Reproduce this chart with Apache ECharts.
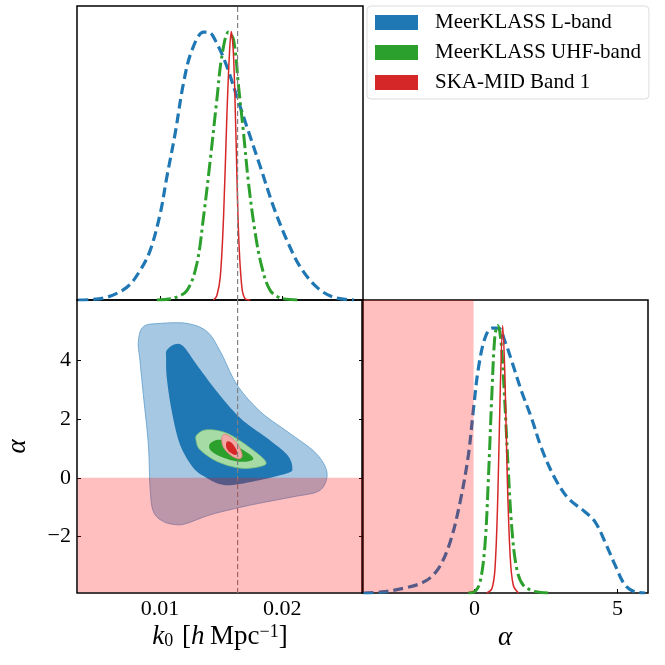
<!DOCTYPE html>
<html><head><meta charset="utf-8">
<script src="https://cdn.jsdelivr.net/npm/echarts@6/dist/echarts.min.js"></script>
<style>html,body{margin:0;padding:0;background:#fff}#c{width:665px;height:665px}</style>
</head><body><div id="c"></div>
<script>
// ---------- data ----------
const seriesNames = ['MeerKLASS L-band', 'MeerKLASS UHF-band', 'SKA-MID Band 1'];
const k0Range = [0.0032, 0.0266];
const alphaRange = [-3.93, 6.07];
const densRange = [0, 1.095];
const k0True = 0.01634;
const priorAlphaMax = 0;
const k0Ticks = [0.01, 0.02];
const alphaTicksY = [-2, 0, 2, 4];
const alphaTicksX = [0, 5];

// 1D marginal posteriors of k0 (peak-normalised), [k0, density]
const lbandK0 = [[0.00331,0],[0.00536,0.007],[0.00727,0.047],[0.00836,0.11],[0.00918,0.184],[0.0100,0.32],[0.01055,0.458],[0.01123,0.62],[0.01191,0.807],[0.0126,0.93],[0.01355,0.998],[0.01396,0.998],[0.01464,0.956],[0.01546,0.87],[0.01628,0.757],[0.0171,0.645],[0.0182,0.496],[0.01929,0.346],[0.02038,0.222],[0.02148,0.122],[0.02284,0.047],[0.02421,0.01],[0.02585,0]];
const uhfK0 = [[0.00973,0],[0.01109,0.007],[0.01219,0.035],[0.0130,0.134],[0.01355,0.309],[0.0141,0.52],[0.01464,0.745],[0.01505,0.907],[0.0156,0.998],[0.01601,0.969],[0.01642,0.795],[0.01683,0.62],[0.01724,0.433],[0.01779,0.247],[0.01833,0.122],[0.01902,0.035],[0.01997,0.006],[0.02148,0]];
const skaK0 = [[0.01437,0],[0.01464,0.016],[0.01492,0.085],[0.01519,0.309],[0.01546,0.682],[0.01566,0.907],[0.01582,1],[0.01601,0.907],[0.0162,0.62],[0.01642,0.247],[0.01669,0.047],[0.01697,0.004],[0.01738,0]];

// 1D marginal posteriors of alpha, [alpha, density]
const lbandAlpha = [[-3.88,0],[-3.24,0.004],[-2.42,0.019],[-1.72,0.044],[-1.26,0.091],[-0.85,0.19],[-0.5,0.34],[-0.21,0.516],[-0.03,0.69],[0.14,0.84],[0.37,0.953],[0.61,0.99],[0.84,0.99],[1.07,0.94],[1.31,0.865],[1.65,0.753],[2.0,0.653],[2.35,0.54],[2.82,0.428],[3.29,0.353],[3.87,0.303],[4.22,0.266],[4.57,0.19],[4.92,0.104],[5.27,0.029],[5.62,0.004],[5.97,0]];
const uhfAlpha = [[-0.21,0],[0.02,0.006],[0.2,0.041],[0.37,0.18],[0.49,0.43],[0.61,0.74],[0.72,0.965],[0.82,1],[0.93,0.94],[1.05,0.74],[1.17,0.49],[1.31,0.241],[1.48,0.091],[1.71,0.029],[2.12,0.006],[2.59,0]];
const skaAlpha = [[0.43,0],[0.61,0.016],[0.72,0.091],[0.82,0.366],[0.9,0.74],[0.99,1],[1.07,0.80],[1.15,0.43],[1.25,0.14],[1.36,0.029],[1.54,0]];

// 2D credible contours (68% inner, 95% outer), [k0, alpha]
const lbandOuter = [[0.00822,4.65],[0.00863,5.16],[0.0100,5.27],[0.0122,5.27],[0.01384,4.99],[0.01493,4.31],[0.0163,3.17],[0.0182,2.26],[0.0204,1.58],[0.0226,0.90],[0.02356,0.33],[0.02356,-0.125],[0.02288,-0.47],[0.02096,-0.64],[0.0182,-0.86],[0.0163,-1.03],[0.01411,-1.26],[0.0122,-1.55],[0.01137,-1.6],[0.01027,-1.49],[0.00945,-1.15],[0.00918,-0.35],[0.00904,1.125],[0.00863,2.83],[0.00836,3.97]];
const lbandInner = [[0.01055,4.36],[0.01123,4.56],[0.01192,4.48],[0.01301,3.85],[0.01466,2.94],[0.01658,2.03],[0.01877,1.35],[0.02041,0.78],[0.02082,0.33],[0.02041,0.16],[0.01822,-0.07],[0.01603,-0.24],[0.01493,-0.22],[0.01384,-0.01],[0.01274,0.33],[0.01164,1.125],[0.01096,2.26],[0.01055,3.40],[0.01049,4.08]];
const uhfOuter = [[0.01301,1.47],[0.01384,1.64],[0.01548,1.52],[0.0174,1.01],[0.01863,0.56],[0.01822,0.39],[0.01658,0.33],[0.01466,0.56],[0.01329,0.95],[0.01296,1.24]];
const uhfInner = [[0.01411,1.18],[0.01493,1.30],[0.0163,1.07],[0.01753,0.73],[0.0174,0.58],[0.0163,0.56],[0.01493,0.73],[0.01411,0.95]];
const skaOuter = [[0.01507,1.41],[0.01548,1.47],[0.0163,1.18],[0.01671,0.78],[0.01644,0.65],[0.01575,0.78],[0.01515,1.07]];
const skaInner = [[0.01548,1.24],[0.01589,1.18],[0.0163,0.9],[0.01616,0.78],[0.01562,0.9],[0.0154,1.07]];

// ---------- styles ----------
const FONT = 'Liberation Serif';
const mainColors = ['#1f77b4', '#2ca02c', '#d62728'];
const lightColors = ['#a6c8e2', '#a6dba6', '#f2a9a6'];
const edgeColors = ['#5d9ccb', '#7cc27c', '#e07a78'];
const priorFill = 'rgba(255,0,0,0.25)';

const chart = echarts.init(document.getElementById('c'), null, {renderer: 'canvas'});

// closed Catmull-Rom smoothing of a pixel-space outline (rendering only)
function smoothClosed(pts, n) {
  const out = [], m = pts.length;
  for (let i = 0; i < m; i++) {
    const p0 = pts[(i - 1 + m) % m], p1 = pts[i], p2 = pts[(i + 1) % m], p3 = pts[(i + 2) % m];
    for (let s = 0; s < n; s++) {
      const t = s / n, t2 = t * t, t3 = t2 * t;
      const f = (a, b, c, d) => 0.5 * ((2 * b) + (-a + c) * t + (2 * a - 5 * b + 4 * c - d) * t2 + (-a + 3 * b - 3 * c + d) * t3);
      out.push([f(p0[0], p1[0], p2[0], p3[0]), f(p0[1], p1[1], p2[1], p3[1])]);
    }
  }
  return out;
}

function contourSeries(idx, polys) {
  return {
    type: 'custom', name: seriesNames[idx], xAxisIndex: 1, yAxisIndex: 1, z: 1, silent: true,
    data: polys.map((p) => [p[0][0], p[0][1]]),
    renderItem(params, api) {
      const p = polys[params.dataIndex];
      const outer = params.dataIndex === 0;
      return {
        type: 'polygon',
        shape: {points: smoothClosed(p.map(v => api.coord(v)), 10)},
        style: {fill: outer ? lightColors[idx] : mainColors[idx], stroke: outer ? edgeColors[idx] : null, lineWidth: outer ? 0.8 : 0}
      };
    }
  };
}
function lineSeries(idx, data, xi, yi, style) {
  return {
    type: 'line', name: seriesNames[idx], xAxisIndex: xi, yAxisIndex: yi, data: data,
    smooth: 0.35, showSymbol: false, symbol: 'none', silent: true, z: 3,
    lineStyle: Object.assign({color: mainColors[idx]}, style)
  };
}
const styles = [
  {width: 3.2, type: [10, 5], cap: 'butt'},
  {width: 3, type: [14, 4, 3, 4], cap: 'butt'},
  {width: 1.5, type: 'solid'}
];
function priorRect(xi, yi, box) {
  return {
    type: 'custom', xAxisIndex: xi, yAxisIndex: yi, z: 6, silent: true,
    data: [box],
    renderItem(params, api) {
      const a = api.coord([api.value(0), api.value(3)]);
      const b = api.coord([api.value(2), api.value(1)]);
      const inset = 0.8; // keep the black frame uncovered
      return {type: 'rect', shape: {x: a[0] + inset, y: a[1], width: b[0] - a[0] - 2 * inset, height: b[1] - a[1] - inset},
        style: {fill: priorFill}};
    }
  };
}
function trueLine(xi, yi, yr) {
  return {type: 'line', xAxisIndex: xi, yAxisIndex: yi, data: [[k0True, yr[0]], [k0True, yr[1]]],
    showSymbol: false, symbol: 'none', silent: true, z: 4,
    lineStyle: {color: '#808080', width: 1.2, type: [5, 3]}};
}

const tickStyle = {show: true, inside: true, length: 4, lineStyle: {color: '#000', width: 1}};
const labelStyle = {fontFamily: FONT, fontSize: 22, color: '#000'};
const minusFmt = v => (v < 0 ? '\u2212' + Math.abs(v) : String(v));

const G0 = {left: 77, top: 6, width: 286, height: 294};
const G1 = {left: 77, top: 300, width: 286, height: 293};
const G2 = {left: 362, top: 300, width: 286, height: 293};
const gridBase = {show: true, borderColor: '#000', borderWidth: 1.5, backgroundColor: 'transparent'};

const option = {
  animation: false,
  backgroundColor: '#fff',
  grid: [Object.assign({}, gridBase, G0), Object.assign({}, gridBase, G1), Object.assign({}, gridBase, G2)],
  legend: {
    left: 367, top: 6, orient: 'vertical', selectedMode: false,
    data: seriesNames.map((n, i) => ({name: n, icon: 'rect', itemStyle: {color: mainColors[i], borderWidth: 0}})),
    itemWidth: 43, itemHeight: 15, itemGap: 9,
    padding: [6, 8, 6, 8],
    borderColor: '#dcdcdc', borderWidth: 1, borderRadius: 4, backgroundColor: '#fff',
    textStyle: {fontFamily: FONT, fontSize: 21, color: '#000', padding: [0, 0, 0, 12]}
  },
  xAxis: [
    {gridIndex: 0, type: 'value', min: k0Range[0], max: k0Range[1], axisLine: {show: false}, splitLine: {show: false},
      axisLabel: {show: false}, axisTick: Object.assign({customValues: k0Ticks}, tickStyle)},
    {gridIndex: 1, type: 'value', min: k0Range[0], max: k0Range[1], axisLine: {show: false}, splitLine: {show: false},
      axisLabel: Object.assign({customValues: k0Ticks, margin: 5, formatter: v => v.toFixed(2)}, labelStyle),
      axisTick: Object.assign({customValues: k0Ticks}, tickStyle),
      name: '{i|k}{s|0}{n| [}{i|h}{n|\u2009Mpc}{p|\u22121}{n|]}', nameLocation: 'middle', nameGap: 30,
      nameTextStyle: {fontFamily: FONT, fontSize: 27, color: '#000',
        rich: {i: {fontFamily: FONT, fontSize: 27, fontStyle: 'italic', color: '#000'},
               n: {fontFamily: FONT, fontSize: 27, color: '#000'},
               s: {fontFamily: FONT, fontSize: 18, color: '#000', verticalAlign: 'bottom', padding: [7, 2, 0, 0]},
               p: {fontFamily: FONT, fontSize: 18, color: '#000', verticalAlign: 'top', padding: [0, 0, 9, 0]}}}},
    {gridIndex: 1, type: 'value', position: 'top', min: k0Range[0], max: k0Range[1], axisLine: {show: false}, splitLine: {show: false},
      axisLabel: {show: false}, axisTick: Object.assign({customValues: k0Ticks}, tickStyle)},
    {gridIndex: 2, type: 'value', min: alphaRange[0], max: alphaRange[1], axisLine: {show: false}, splitLine: {show: false},
      axisLabel: Object.assign({customValues: alphaTicksX, margin: 5, formatter: minusFmt}, labelStyle),
      axisTick: Object.assign({customValues: alphaTicksX}, tickStyle),
      name: '\u03b1', nameLocation: 'middle', nameGap: 31,
      nameTextStyle: {fontFamily: FONT, fontSize: 27, fontStyle: 'italic', color: '#000'}}
  ],
  yAxis: [
    {gridIndex: 0, type: 'value', min: densRange[0], max: densRange[1], show: false},
    {gridIndex: 1, type: 'value', min: alphaRange[0], max: alphaRange[1], axisLine: {show: false}, splitLine: {show: false},
      axisLabel: Object.assign({customValues: alphaTicksY, margin: 6, formatter: minusFmt}, labelStyle),
      axisTick: Object.assign({customValues: alphaTicksY}, tickStyle),
      name: '\u03b1', nameLocation: 'middle', nameGap: 46, nameRotate: 90,
      nameTextStyle: {fontFamily: FONT, fontSize: 27, fontStyle: 'italic', color: '#000'}},
    {gridIndex: 1, type: 'value', position: 'right', min: alphaRange[0], max: alphaRange[1], axisLine: {show: false}, splitLine: {show: false},
      axisLabel: {show: false}, axisTick: Object.assign({customValues: alphaTicksY}, tickStyle)},
    {gridIndex: 2, type: 'value', min: densRange[0], max: densRange[1], show: false}
  ],
  series: [
    contourSeries(0, [lbandOuter, lbandInner]),
    contourSeries(1, [uhfOuter, uhfInner]),
    contourSeries(2, [skaOuter, skaInner]),
    lineSeries(0, lbandK0, 0, 0, styles[0]),
    lineSeries(1, uhfK0, 0, 0, styles[1]),
    lineSeries(2, skaK0, 0, 0, styles[2]),
    lineSeries(0, lbandAlpha, 3, 3, styles[0]),
    lineSeries(1, uhfAlpha, 3, 3, styles[1]),
    lineSeries(2, skaAlpha, 3, 3, styles[2]),
    trueLine(0, 0, densRange),
    trueLine(1, 1, alphaRange),
    priorRect(1, 1, [k0Range[0], alphaRange[0], k0Range[1], priorAlphaMax]),
    priorRect(3, 3, [alphaRange[0], densRange[0], priorAlphaMax, densRange[1]])
  ]
};
chart.setOption(option);
</script>
</body></html>
